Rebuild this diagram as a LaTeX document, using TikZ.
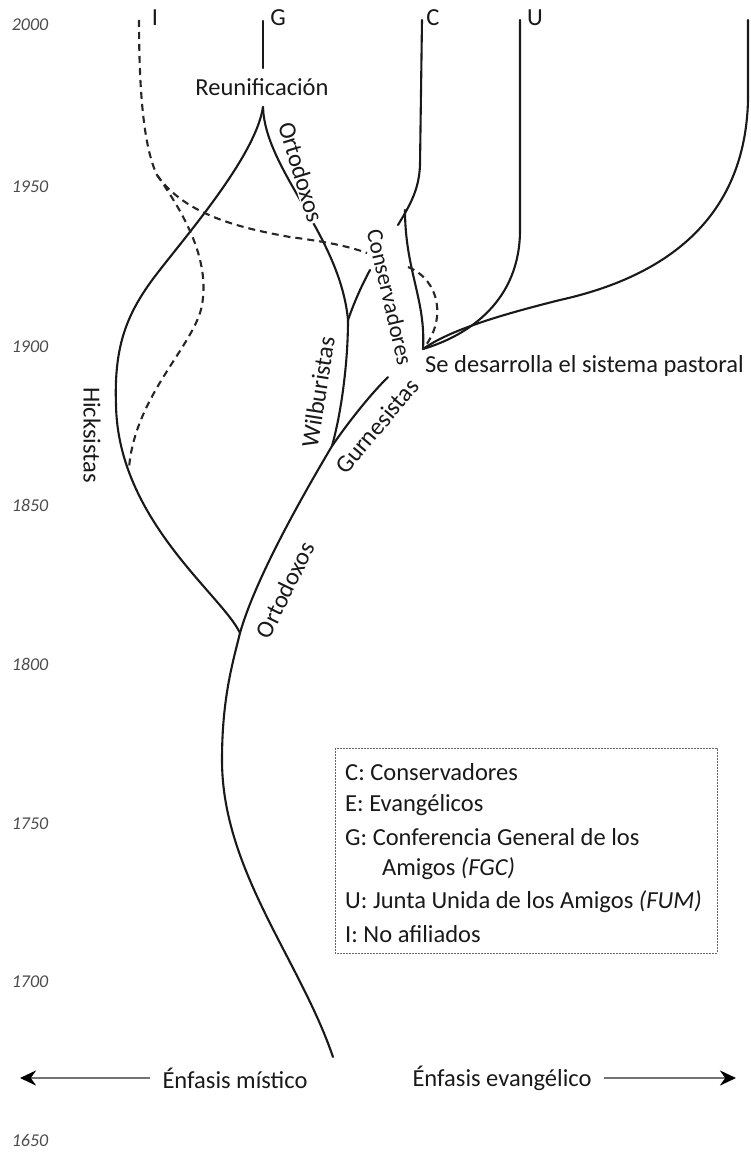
\documentclass[tikz,border=0pt]{standalone}
\usepackage{fontspec}
\setmainfont{Carlito}
\usetikzlibrary{arrows.meta}
\begin{document}
\begin{tikzpicture}[x=1pt,y=-1pt,
  branch/.style={line width=2.1pt, black!90, line cap=round},
  dashbranch/.style={line width=2.1pt, black!85, dash pattern=on 7pt off 5pt},
  lbl/.style={font=\fontsize{24.5}{29}\selectfont, inner sep=0pt, text=black!90},
  leg/.style={font=\fontsize{24.5}{29}\selectfont, inner sep=0pt, anchor=west, text=black!90},
  yr/.style={font=\fontsize{18}{21}\selectfont\itshape, text=black!70, inner sep=0pt},
  legbox/.style={draw=black!60, line width=0.9pt, dash pattern=on 2pt off 1pt},
  axisarrow/.style={line width=2.8pt, black!55, -{Stealth[length=16pt,width=15pt,black]}}]
\useasboundingbox (0,0) rectangle (751,1156);

% years
\node[yr] (y2000) at (30,25) {2000};
\node[yr] (y1950) at (30,187) {1950};
\node[yr] (y1900) at (30,347) {1900};
\node[yr] (y1850) at (30,505) {1850};
\node[yr] (y1800) at (30,664) {1800};
\node[yr] (y1750) at (30,824) {1750};
\node[yr] (y1700) at (30,982) {1700};
\node[yr] (y1650) at (30,1140) {1650};

% key coordinates
\coordinate (base) at (333,1057);
\coordinate (mid) at (222,760);
\coordinate (J1) at (240,633);
\coordinate (hk) at (116,405);
\coordinate (hk2) at (150,283);
\coordinate (R) at (263,107);
\coordinate (Gtop) at (263,21);
\coordinate (Gbot) at (263,68);
\coordinate (W) at (332,446);
\coordinate (gur) at (388,377);
\coordinate (F2) at (348,320);
\coordinate (wr) at (370,270);
\coordinate (Ctop) at (422,20);
\coordinate (Cbend) at (420,165);
\coordinate (Cend) at (398,225);
\coordinate (Cj) at (405,210);
\coordinate (O) at (423,349);
\coordinate (Utop) at (520,20);
\coordinate (Ubend) at (520,230);
\coordinate (Etop) at (748,20);
\coordinate (Ebend) at (748,100);
\coordinate (Emid) at (560,300);
\coordinate (Itop) at (139,20);
\coordinate (D1) at (157,175);
\coordinate (Dm) at (202,305);
\coordinate (Dend) at (129,468);
\coordinate (Dr) at (290,237);
\coordinate (Drend) at (367,253);
\coordinate (Ds) at (408,267);

% trunk
\draw[branch] (base) .. controls (300,960) and (222,870) .. (mid)
  .. controls (222,700) and (232,665) .. (J1);
% Hicksistas branch up to reunification
\draw[branch] (J1) .. controls (222,595) and (118,520) .. (hk)
  .. controls (114,350) and (125,318) .. (hk2)
  .. controls (175,248) and (255,160) .. (R);
% Ortodoxos lower
\draw[branch] (J1) .. controls (255,580) and (300,500) .. (W);
% Gurnesistas
\draw[branch] (W) .. controls (350,420) and (370,395) .. (gur);
% Wilburistas
\draw[branch] (W) .. controls (342,410) and (348,360) .. (F2);
\draw[branch] (F2) .. controls (355,300) and (362,285) .. (wr);
% Ortodoxos upper to reunification
\draw[branch] (F2) .. controls (340,235) and (265,170) .. (R);
% G
\draw[branch] (Gtop) -- (Gbot);
% C line
\draw[branch] (Ctop) -- (Cbend) .. controls (419,190) and (410,205) .. (Cend);
\draw[branch] (Cj) .. controls (405,270) and (426,300) .. (O);
% U line
\draw[branch] (Utop) -- (Ubend) .. controls (520,300) and (470,335) .. (O);
% E line
\draw[branch] (Etop) -- (Ebend) .. controls (745,230) and (650,280) .. (Emid)
  .. controls (500,315) and (450,330) .. (O);

% dashed I
\draw[dashbranch] (Itop) .. controls (139,100) and (145,150) .. (D1);
\draw[dashbranch] (D1) .. controls (185,215) and (210,260) .. (Dm)
  .. controls (195,345) and (135,395) .. (Dend);
\draw[dashbranch] (D1) .. controls (185,215) and (240,228) .. (Dr)
  .. controls (320,241) and (345,245) .. (Drend);
\draw[dashbranch] (Ds) .. controls (440,280) and (447,320) .. (O);

% top letters
\node[lbl] (lI) at (155,18) {I};
\node[lbl] (lG) at (278,18) {G};
\node[lbl] (lC) at (433,18) {C};
\node[lbl] (lU) at (535,18) {U};

% labels
\node[lbl] (reun) at (262,87) {Reunificación};
\node[lbl, rotate=-73, fill=white, inner sep=1pt] (ort1) at (301,172) {Ortodoxos};
\node[lbl, rotate=-77, font=\fontsize{23}{27}\selectfont] (cons) at (390,297) {Conservadores};
\node[lbl, anchor=west] (pastoral) at (425,366) {Se desarrolla el sistema pastoral};
\node[lbl, rotate=81] (wil) at (318,392) {Wilburistas};
\node[lbl, rotate=50] (gurl) at (377,426) {Gurnesistas};
\node[lbl, rotate=-90] (hick) at (92,435) {Hicksistas};
\node[lbl, rotate=64] (ort2) at (285,590) {Ortodoxos};

% legend
\draw[legbox] (335,748) rectangle (717,953);
\node[leg] (l1) at (345,772) {C: Conservadores};
\node[leg] (l2) at (345,805) {E: Evangélicos};
\node[leg] (l3) at (345,837) {G: Conferencia General de los};
\node[leg] (l4) at (382,869) {Amigos \textit{(FGC)}};
\node[leg] (l5) at (345,902) {U: Junta Unida de los Amigos \textit{(FUM)}};
\node[leg] (l6) at (345,934) {I: No afiliados};

% bottom axis
\node[lbl] (mist) at (235,1078) {Énfasis místico};
\node[lbl] (evan) at (502,1078) {Énfasis evangélico};
\coordinate (la) at (20,1078);
\coordinate (ra) at (736,1078);
\draw[axisarrow] (mist.west) ++(-12,0) -- (la);
\draw[axisarrow] (evan.east) ++(12,0) -- (ra);
\end{tikzpicture}
\end{document}
